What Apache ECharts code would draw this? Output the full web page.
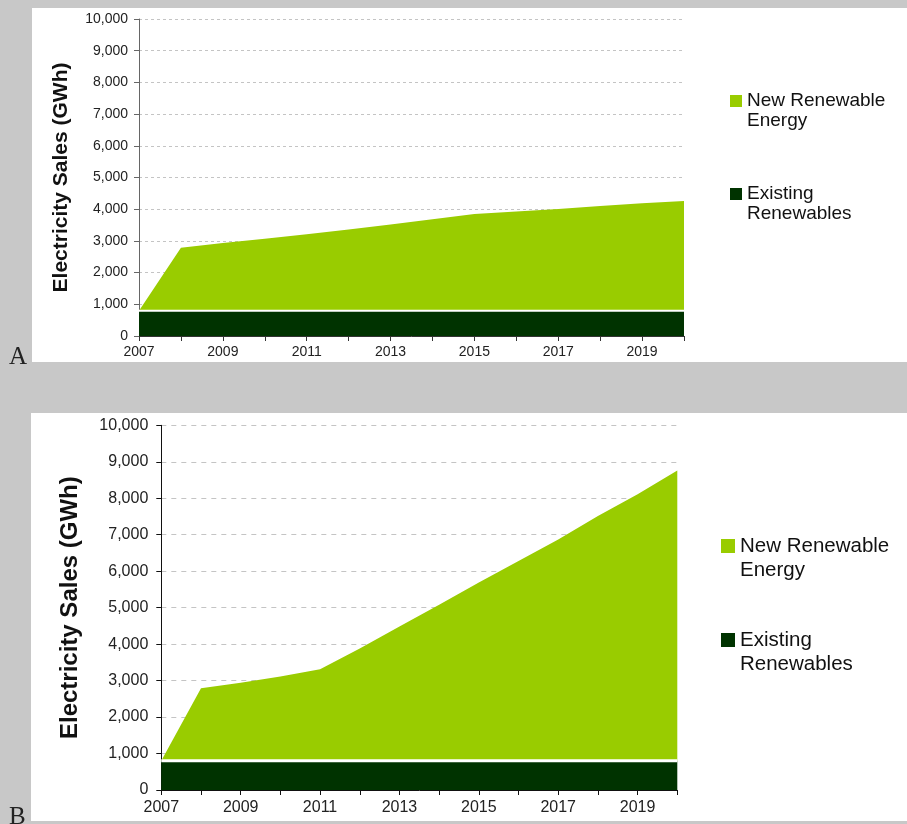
<!DOCTYPE html>
<html>
<head>
<meta charset="utf-8">
<script src="https://cdn.jsdelivr.net/npm/echarts@6/dist/echarts.min.js"></script>
<style>
html,body{margin:0;padding:0;background:#c8c8c8;}
#chart{width:907px;height:824px;}
</style>
</head>
<body>
<div id="chart"></div>
<script>
// ---- data ----
var years = ['2007','2008','2009','2010','2011','2012','2013','2014','2015','2016','2017','2018','2019','2020'];
var existingA = [800,800,800,800,800,800,800,800,800,800,800,800,800,800];
var newA      = [0,1980,2130,2270,2410,2560,2715,2880,3050,3130,3210,3300,3390,3460];
var existingB = [800,800,800,800,800,800,800,800,800,800,800,800,800,800];
var newB      = [0,1990,2140,2310,2510,3080,3680,4280,4890,5480,6070,6710,7310,7960];
var yTicks = [0,1000,2000,3000,4000,5000,6000,7000,8000,9000,10000];
var seriesNames = ['New Renewable Energy','Existing Renewables'];
var legendLabels = {'New Renewable Energy':' \nNew Renewable\nEnergy','Existing Renewables':' \nExisting\nRenewables'};

var GREEN = '#99cc00', DARK = '#003300';
var FONT = '"Liberation Sans", Arial, sans-serif';

function fmtNum(v){ return Number(v).toLocaleString('en-US'); }

function xAxisCfg(gi, fs, axisColor, margin){
  return {
    type:'category', gridIndex:gi, data:years, boundaryGap:false,
    axisLine:{lineStyle:{color:axisColor,width:1}},
    axisTick:{show:true,interval:0,length:5,lineStyle:{color:axisColor}},
    axisLabel:{interval:1,fontSize:fs,color:'#222',fontFamily:FONT,margin:margin},
    splitLine:{show:false}
  };
}
function yAxisCfg(gi, fs, nfs, gap, axisColor, dash, margin){
  return {
    type:'value', gridIndex:gi, min:yTicks[0], max:yTicks[yTicks.length-1], interval:1000,
    name:'Electricity Sales (GWh)', nameLocation:'middle', nameGap:gap, nameRotate:90,
    nameMoveOverlap:false,
    nameTextStyle:{fontSize:nfs,fontWeight:'bold',color:'#111',fontFamily:FONT},
    axisLine:{show:true,lineStyle:{color:axisColor,width:1}},
    axisTick:{show:true,length:5,lineStyle:{color:axisColor}},
    axisLabel:{fontSize:fs,color:'#222',fontFamily:FONT,margin:margin,formatter:fmtNum},
    splitLine:{show:true,lineStyle:{color:'#c4c4c4',type:dash,width:1}}
  };
}
function legendCfg(name, left, top, fs, lh, iw){
  return {
    data:[name], left:left, top:top, padding:0, orient:'vertical',
    itemWidth:iw, itemHeight:iw, itemGap:0, icon:'rect',
    formatter:function(n){ return legendLabels[n]; },
    textStyle:{fontSize:fs,lineHeight:lh,color:'#111',fontFamily:FONT}
  };
}
function areaSeries(name, gi, stack, vals, color, z, lineW){
  return {
    name:name, type:'line', xAxisIndex:gi, yAxisIndex:gi, stack:stack, data:vals,
    symbol:'none', showSymbol:false, z:z, animation:false,
    lineStyle:{color: name===seriesNames[1] ? '#ffffff' : color, width:lineW},
    itemStyle:{color:color},
    areaStyle:{color:color,opacity:1}
  };
}

var chart = echarts.init(document.getElementById('chart'), null, {renderer:'canvas'});
chart.setOption({
  backgroundColor:'#c8c8c8',
  animation:false,
  graphic:{elements:[
    {type:'rect',z:-10,shape:{x:32,y:8,width:875,height:354},style:{fill:'#ffffff'}},
    {type:'rect',z:-10,shape:{x:31,y:413,width:876,height:408},style:{fill:'#ffffff'}},
    {type:'text',z:-5,x:9,y:345,style:{text:'A',font:'25px "Liberation Serif", "Times New Roman", serif',fill:'#222'}},
    {type:'text',z:-5,x:9,y:805,style:{text:'B',font:'25px "Liberation Serif", "Times New Roman", serif',fill:'#222'}}
  ]},
  grid:[
    {left:139,top:19,width:545,height:317},
    {left:161.3,top:425.3,width:516,height:364.7}
  ],
  xAxis:[ xAxisCfg(0,14,'#333',9), xAxisCfg(1,16,'#111',10) ],
  yAxis:[ yAxisCfg(0,14,21,67,'#666',[3,3],11), yAxisCfg(1,16,24,79,'#111',[5,5],13) ],
  legend:[
    legendCfg(seriesNames[0],730,71,19,20,12),
    legendCfg(seriesNames[1],730,164,19,20,12),
    legendCfg(seriesNames[0],721,510,20.5,24,14),
    legendCfg(seriesNames[1],721,604,20.5,24,14)
  ],
  series:[
    areaSeries(seriesNames[1],0,'A',existingA,DARK,3,2),
    areaSeries(seriesNames[0],0,'A',newA,GREEN,2,0),
    areaSeries(seriesNames[1],1,'B',existingB,DARK,3,3),
    areaSeries(seriesNames[0],1,'B',newB,GREEN,2,0)
  ]
});
</script>
</body>
</html>
